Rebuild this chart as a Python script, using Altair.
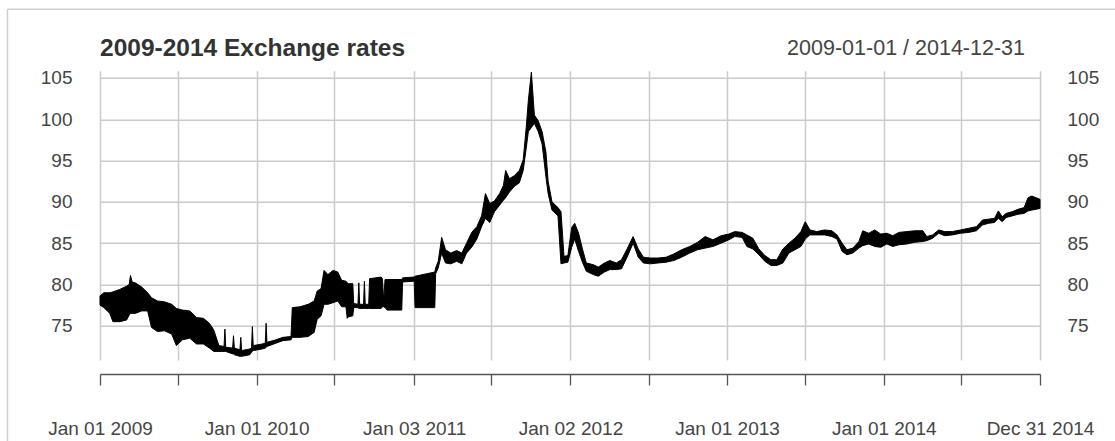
import altair as alt
import pandas as pd

# ---------------- data ----------------
DATES = [
    "2009-01-01", "2009-01-10", "2009-01-24", "2009-01-31", "2009-02-16", "2009-03-04",
    "2009-03-10", "2009-03-13", "2009-03-17", "2009-03-24", "2009-04-08", "2009-04-22",
    "2009-05-01", "2009-05-15", "2009-05-31", "2009-06-17", "2009-06-28", "2009-07-12",
    "2009-07-29", "2009-08-14", "2009-08-30", "2009-09-13", "2009-09-23", "2009-10-05",
    "2009-10-17", "2009-10-19", "2009-10-21", "2009-11-06", "2009-11-08", "2009-11-10",
    "2009-11-23", "2009-11-25", "2009-11-27", "2009-12-16", "2009-12-20", "2009-12-22",
    "2009-12-24", "2010-01-14", "2010-01-21", "2010-01-23", "2010-01-25", "2010-02-15",
    "2010-03-03", "2010-03-22", "2010-03-25", "2010-04-12", "2010-05-01", "2010-05-15",
    "2010-05-22", "2010-05-31", "2010-06-07", "2010-06-16", "2010-06-28", "2010-07-09",
    "2010-07-18", "2010-07-28", "2010-07-31", "2010-08-03", "2010-08-13", "2010-08-15",
    "2010-08-25", "2010-08-27", "2010-08-29", "2010-09-07", "2010-09-09", "2010-09-11",
    "2010-09-19", "2010-09-21", "2010-10-18", "2010-10-21", "2010-10-24", "2010-10-27",
    "2010-11-01", "2010-12-05", "2010-12-07", "2011-01-03", "2011-01-05", "2011-02-20",
    "2011-02-22", "2011-02-28", "2011-03-08", "2011-03-17", "2011-03-29", "2011-04-12",
    "2011-04-24", "2011-05-05", "2011-05-17", "2011-05-29", "2011-06-09", "2011-06-18",
    "2011-06-28", "2011-07-09", "2011-07-21", "2011-07-30", "2011-08-04", "2011-08-13",
    "2011-08-25", "2011-09-05", "2011-09-14", "2011-09-21", "2011-09-26", "2011-10-03",
    "2011-10-10", "2011-10-19", "2011-10-28", "2011-11-06", "2011-11-11", "2011-11-20",
    "2011-12-04", "2011-12-11", "2011-12-18", "2011-12-27", "2012-01-05", "2012-01-12",
    "2012-01-21", "2012-01-30", "2012-02-08", "2012-02-24", "2012-03-07", "2012-03-21",
    "2012-04-03", "2012-04-18", "2012-04-30", "2012-05-13", "2012-05-27", "2012-06-08",
    "2012-06-20", "2012-07-06", "2012-07-24", "2012-08-12", "2012-08-30", "2012-09-17",
    "2012-10-06", "2012-10-24", "2012-11-11", "2012-11-29", "2012-12-18", "2013-01-05",
    "2013-01-19", "2013-02-05", "2013-02-16", "2013-03-02", "2013-03-16", "2013-03-30",
    "2013-04-13", "2013-04-27", "2013-05-11", "2013-05-25", "2013-06-08", "2013-06-22",
    "2013-07-02", "2013-07-13", "2013-07-29", "2013-08-16", "2013-09-02", "2013-09-14",
    "2013-09-26", "2013-10-07", "2013-10-21", "2013-11-04", "2013-11-13", "2013-11-27",
    "2013-12-11", "2013-12-25", "2014-01-08", "2014-01-22", "2014-02-05", "2014-02-24",
    "2014-03-14", "2014-04-02", "2014-04-11", "2014-04-25", "2014-05-09", "2014-05-23",
    "2014-06-10", "2014-06-29", "2014-07-18", "2014-08-05", "2014-08-19", "2014-09-02",
    "2014-09-16", "2014-09-25", "2014-10-04", "2014-10-13", "2014-10-27", "2014-11-10",
    "2014-11-24", "2014-12-03", "2014-12-12", "2014-12-31",
]
LO = [
    77.5, 77.2, 76.5, 75.5, 75.5, 75.7,
    76.3, 76.5, 76.5, 76.5, 76.8, 76.8,
    74.8, 74.3, 74.4, 74.0, 72.6, 73.3,
    73.5, 72.8, 72.8, 72.3, 71.9, 71.9,
    71.9, 71.9, 71.9, 71.6, 71.6, 71.5,
    71.3, 71.3, 71.3, 71.5, 71.8, 71.9,
    72.0, 72.2, 72.3, 72.4, 72.5, 72.9,
    73.2, 73.3, 73.6, 73.6, 73.7, 74.2,
    75.8, 76.2, 77.6, 77.6, 77.8, 78.0,
    77.3, 77.3, 75.9, 76.1, 76.2, 77.2,
    77.2, 77.1, 77.1, 77.1, 77.1, 77.1,
    77.1, 77.1, 77.1, 77.3, 77.3, 77.2,
    76.9, 76.9, 80.3, 80.4, 77.2, 77.2,
    81.3, 82.0, 83.8, 82.6, 82.5, 82.8,
    82.5, 83.8, 84.5, 85.5, 87.0, 88.0,
    87.5, 88.8, 89.6, 90.2, 90.5, 91.2,
    91.9, 92.3, 93.8, 96.5, 98.5, 99.0,
    99.5, 98.5, 97.0, 93.0, 91.0, 89.0,
    88.3, 82.5, 82.6, 82.7, 84.5, 85.5,
    84.0, 82.7, 81.6, 81.2, 81.0, 81.5,
    81.8, 81.8, 81.9, 83.3, 85.0, 83.3,
    82.6, 82.5, 82.6, 82.7, 82.9, 83.3,
    83.8, 84.2, 84.4, 84.6, 85.0, 85.4,
    85.8, 85.7, 84.6, 84.3, 83.6, 82.8,
    82.3, 82.3, 82.6, 83.8, 84.2, 84.6,
    85.5, 86.0, 86.0, 86.0, 85.8, 85.5,
    84.0, 83.6, 83.8, 84.4, 84.7, 84.9,
    84.6, 84.5, 84.9, 84.6, 84.8, 84.9,
    85.1, 85.2, 85.3, 85.6, 86.2, 85.9,
    86.0, 86.2, 86.3, 86.5, 87.2, 87.4,
    87.5, 88.0, 87.6, 88.1, 88.3, 88.5,
    88.6, 88.9, 89.0, 89.2,
]
HI = [
    78.6, 79.0, 79.0, 79.1, 79.4, 79.8,
    80.0, 81.1, 80.3, 80.2, 79.7, 79.0,
    78.4, 78.0, 77.9, 77.6, 77.1, 76.9,
    76.8, 76.0, 75.9, 75.3, 74.5, 72.6,
    72.5, 74.6, 72.4, 72.3, 73.8, 72.3,
    72.1, 73.6, 72.0, 72.2, 72.3, 74.9,
    72.6, 72.8, 72.9, 75.3, 73.0, 73.3,
    73.6, 73.7, 77.2, 77.3, 77.6, 78.0,
    79.2, 79.5, 81.7, 81.2, 81.7, 81.5,
    80.5, 80.4, 80.2, 80.1, 80.1, 77.7,
    77.6, 80.2, 77.6, 77.6, 80.4, 77.6,
    77.6, 80.7, 80.9, 80.7, 78.0, 80.6,
    80.6, 80.6, 80.8, 80.9, 81.0, 81.5,
    82.0, 82.8, 85.7, 84.2, 83.8, 84.1,
    83.8, 85.0, 86.3, 87.0, 88.3, 91.0,
    89.8, 90.1, 91.0, 92.0, 93.8, 92.8,
    93.2, 93.8, 95.1, 99.0, 102.3, 105.7,
    100.5, 99.8, 98.5, 96.0, 92.5, 90.0,
    89.3, 88.8, 83.4, 83.5, 86.9, 87.4,
    86.2, 84.3, 82.6, 82.4, 82.1, 82.6,
    82.9, 82.6, 83.0, 84.3, 85.8, 84.3,
    83.3, 83.2, 83.2, 83.3, 83.7, 84.2,
    84.6, 85.1, 85.8, 85.4, 85.9, 86.1,
    86.4, 86.3, 86.0, 85.6, 84.3, 83.5,
    83.0, 83.0, 84.3, 85.0, 85.6, 86.4,
    87.6, 86.6, 86.4, 86.6, 86.5, 86.0,
    85.0, 84.2, 84.4, 85.2, 86.5, 86.2,
    86.6, 86.1, 86.2, 85.9, 86.3, 86.4,
    86.5, 86.5, 85.8, 86.0, 86.6, 86.4,
    86.4, 86.6, 86.8, 87.0, 87.8, 87.9,
    88.0, 88.9, 88.2, 88.6, 88.8, 89.1,
    89.3, 90.5, 90.7, 90.3,
]

Y_TICKS = [75, 80, 85, 90, 95, 100, 105]
X_TICKS = [
    "2009-01-01", "2009-07-01", "2010-01-01", "2010-07-01", "2011-01-03", "2011-07-01",
    "2012-01-02", "2012-07-02", "2013-01-01", "2013-07-01", "2014-01-01", "2014-07-01",
    "2014-12-31",
]
X_DOMAIN = ["2009-01-01", "2014-12-31"]
Y_DOMAIN = [70.86, 105.87]
TITLE = "2009-2014 Exchange rates"
SUBTITLE = "2009-01-01 / 2014-12-31"

# ---------------- styling ----------------
FONT = "Liberation Sans"
GRID = "#cbcbcb"
LABEL = "#454545"
AXIS = "#555555"
W, H = 940, 289.3


def dt(s):
    t = pd.Timestamp(s)
    return alt.DateTime(year=t.year, month=t.month, date=t.day, utc=True)


df = pd.DataFrame({"date": DATES, "lo": LO, "hi": HI})

x_enc = alt.X(
    "date:T",
    scale=alt.Scale(type="utc", domain=[dt(d) for d in X_DOMAIN], nice=False),
    axis=alt.Axis(
        values=[dt(d) for d in X_TICKS],
        labelExpr="utcmonth(datum.value) == 6 ? '' : utcFormat(datum.value, '%b %d %Y')",
        grid=True, gridColor=GRID, gridWidth=1.5,
        domain=True, domainColor=AXIS, domainWidth=1.3,
        ticks=True, tickColor=AXIS, tickWidth=1.3, tickSize=11,
        offset=14, labelFont=FONT, labelFontSize=19, labelColor=LABEL,
        labelPadding=49, labelBaseline="alphabetic", labelAngle=0,
        labelOverlap=False, labelFlush=False, title=None,
    ),
)

y_scale = alt.Scale(domain=Y_DOMAIN, nice=False, zero=False)

band = alt.Chart(df).mark_area(
    color="black", stroke="black", strokeWidth=1.0, strokeJoin="round", opacity=1
).encode(
    x=x_enc,
    y=alt.Y(
        "lo:Q", scale=y_scale,
        axis=alt.Axis(
            values=Y_TICKS, orient="left", grid=True, gridColor=GRID, gridWidth=1.5,
            domain=False, ticks=False, tickSize=0, labelPadding=28,
            labelFont=FONT, labelFontSize=19, labelColor=LABEL, title=None,
        ),
    ),
    y2="hi:Q",
)

right_axis = alt.Chart(df).mark_line(opacity=0).encode(
    x=x_enc,
    y=alt.Y(
        "hi:Q", scale=y_scale,
        axis=alt.Axis(
            values=Y_TICKS, orient="right", grid=False,
            domain=False, ticks=False, tickSize=0, labelPadding=27,
            labelFont=FONT, labelFontSize=19, labelColor=LABEL, title=None,
        ),
    ),
)

one = pd.DataFrame({"t": [TITLE], "s": [SUBTITLE]})

title_text = alt.Chart(one).mark_text(
    align="left", baseline="alphabetic", font=FONT, fontSize=24.5,
    fontWeight="bold", color="#333333",
).encode(text="t:N", x=alt.value(0), y=alt.value(-14.7))

sub_text = alt.Chart(one).mark_text(
    align="right", baseline="alphabetic", font=FONT, fontSize=21.5,
    color="#444444",
).encode(text="s:N", x=alt.value(925), y=alt.value(-15.7))

frame_top = alt.Chart(one).mark_rule(color="#cfcfcf", strokeWidth=1.5).encode(
    x=alt.value(-92.5), x2=alt.value(1020), y=alt.value(-61.4)
)
frame_left = alt.Chart(one).mark_rule(color="#cfcfcf", strokeWidth=1.5).encode(
    x=alt.value(-92.5), y=alt.value(-61.4), y2=alt.value(375)
)

chart = alt.layer(
    frame_top, frame_left, band, right_axis, title_text, sub_text
).resolve_scale(y="shared").resolve_axis(y="independent").properties(
    width=W, height=H,
    autosize=alt.AutoSizeParams(type="none"),
    padding={"left": 100, "top": 70.7, "right": 75, "bottom": 81},
    background="white",
).configure_view(stroke=None)

chart.save("out.html", embed_options={"renderer": "svg", "actions": False})
